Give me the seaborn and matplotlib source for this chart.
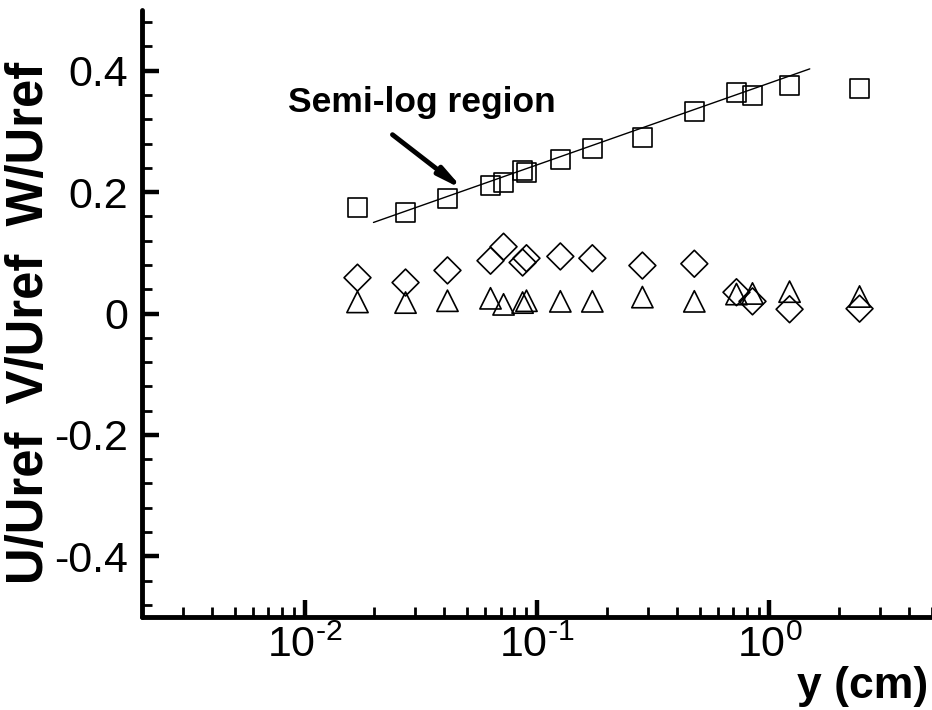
import numpy as np
import pandas as pd
import seaborn as sns
import matplotlib
matplotlib.use('Agg')
import matplotlib.pyplot as plt
from matplotlib.ticker import MultipleLocator, LogLocator, FixedLocator, NullFormatter

# data
y_cm = [0.0169, 0.0272, 0.0412, 0.0631, 0.0718, 0.0867, 0.0901, 0.126,
        0.173, 0.284, 0.475, 0.721, 0.845, 1.22, 2.44]
u_ref = [0.175, 0.166, 0.189, 0.211, 0.216, 0.235, 0.232, 0.253,
         0.272, 0.290, 0.332, 0.364, 0.359, 0.375, 0.370]
v_ref = [0.059, 0.051, 0.071, 0.087, 0.110, 0.084, 0.091, 0.094,
         0.091, 0.079, 0.082, 0.035, 0.020, 0.007, 0.008]
w_ref = [0.019, 0.018, 0.021, 0.025, 0.015, 0.018, 0.021, 0.020,
         0.020, 0.027, 0.020, 0.032, 0.033, 0.036, 0.028]

# semi-log fit line end points
fit_x = [0.0198, 1.49]
fit_y = [0.150, 0.403]

y_ticks = [-0.4, -0.2, 0, 0.2, 0.4]
y_tick_labels = ['-0.4', '-0.2', '0', '0.2', '0.4']
x_ticks = [0.01, 0.1, 1]
x_tick_labels = [r'$10^{\text{-2}}$', r'$10^{\text{-1}}$', r'$10^{0}$']

sns.set_style('white')
plt.rcParams['font.family'] = ['Liberation Sans', 'DejaVu Sans']
plt.rcParams['mathtext.fontset'] = 'custom'
plt.rcParams['mathtext.rm'] = 'Liberation Sans'
plt.rcParams['mathtext.it'] = 'Liberation Sans'
plt.rcParams['axes.unicode_minus'] = False
plt.rcParams['text.color'] = 'k'
plt.rcParams['axes.labelcolor'] = 'k'

fig = plt.figure(figsize=(9.32, 7.1), dpi=100)
ax = fig.add_axes([142 / 932, 93 / 710, 790 / 932, 607 / 710])

mk = dict(facecolor='none', edgecolor='k', linewidth=1.2, ax=ax, legend=False, zorder=3)
sns.scatterplot(x=y_cm, y=u_ref, marker='s', s=187, **mk)
sns.scatterplot(x=y_cm, y=v_ref, marker='D', s=187, **mk)
sns.scatterplot(x=y_cm, y=w_ref, marker='^', s=235, **mk)
sns.lineplot(x=fit_x, y=fit_y, color='k', linewidth=1.0, ax=ax)

ax.set_xscale('log')
ax.set_xlim(0.002, 5.0)
ax.set_ylim(-0.5, 0.5)

ax.yaxis.set_major_locator(FixedLocator(y_ticks))
ax.set_yticklabels(y_tick_labels)
ax.yaxis.set_minor_locator(MultipleLocator(0.04))
ax.xaxis.set_major_locator(FixedLocator(x_ticks))
ax.set_xticklabels(x_tick_labels)
ax.xaxis.set_minor_locator(LogLocator(base=10, subs=np.arange(2, 10)))
ax.xaxis.set_minor_formatter(NullFormatter())

ax.tick_params(which='both', direction='in', colors='k', labelsize=31,
               bottom=True, left=True, top=False, right=False)
ax.tick_params(which='major', length=12, width=3.2)
ax.tick_params(which='minor', length=7, width=2)
ax.tick_params(axis='y', pad=10)
ax.tick_params(axis='x', pad=6)

sns.despine(ax=ax)
for side in ['left', 'bottom']:
    ax.spines[side].set_linewidth(3.5)
    ax.spines[side].set_color('k')
    ax.spines[side].set_capstyle('round')

ax.set_ylabel('U/Uref  V/Uref  W/Uref', fontsize=36.5, fontweight='bold', color='k')
ax.yaxis.set_label_coords(-0.112, 0.484)
ax.set_xlabel('y (cm)', fontsize=32, fontweight='bold', ha='right', color='k')
ax.xaxis.set_label_coords(0.995, -0.08)

ax.text(0.00845, 0.3325, 'Semi-log region', fontsize=25.5, fontweight='bold', color='k')
ax.annotate('', xy=(0.0483, 0.204), xytext=(0.0239, 0.2946),
            arrowprops=dict(arrowstyle='-|>,head_length=1.4,head_width=0.28',
                            color='k', lw=3.5, shrinkA=0, shrinkB=0))

fig.savefig('out.png', dpi=100)
